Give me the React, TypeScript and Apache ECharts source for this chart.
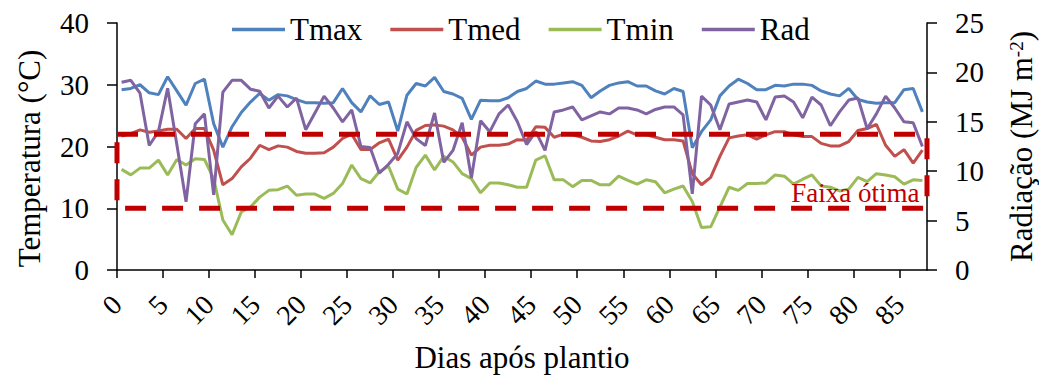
import React, { useEffect, useRef } from "react";
import * as echarts from "echarts";

// Days after planting (categories)
const days = [
  0, 1, 2, 3, 4, 5, 6, 7, 8, 9, 10, 11, 12, 13, 14, 15, 16, 17, 18, 19, 20, 21,
  22, 23, 24, 25, 26, 27, 28, 29, 30, 31, 32, 33, 34, 35, 36, 37, 38, 39, 40, 41,
  42, 43, 44, 45, 46, 47, 48, 49, 50, 51, 52, 53, 54, 55, 56, 57, 58, 59, 60, 61,
  62, 63, 64, 65, 66, 67, 68, 69, 70, 71, 72, 73, 74, 75, 76, 77, 78, 79, 80, 81,
  82, 83, 84, 85, 86, 87,
];

const xTickLabels = [0, 5, 10, 15, 20, 25, 30, 35, 40, 45, 50, 55, 60, 65, 70, 75, 80, 85];

const tmax = [
  29.2, 29.4, 30.0, 28.7, 28.4, 31.3, 29.0, 26.7, 30.2, 30.9, 23.7, 19.9, 23.2, 25.5, 27.2, 28.6,
  27.5, 28.4, 28.2, 27.6, 27.1, 27.1, 27.0, 27.1, 29.4, 27.1, 25.6, 28.2, 26.8, 27.2, 22.5, 28.3,
  30.2, 29.8, 31.2, 28.9, 28.5, 27.8, 24.4, 27.5, 27.4, 27.4, 27.9, 28.9, 29.4, 30.6, 30.1, 30.1,
  30.3, 30.5, 29.9, 27.9, 29.0, 29.9, 30.3, 30.5, 29.8, 29.8, 29.0, 28.5, 29.4, 28.9, 19.8, 22.4,
  24.3, 28.2, 29.8, 30.9, 30.2, 29.2, 29.2, 29.9, 29.8, 30.1, 30.1, 29.9, 29.0, 28.5, 28.2, 29.4,
  27.6, 27.2, 27.0, 27.1, 27.1, 29.2, 29.4, 25.6,
];

const tmed = [
  21.7, 22.1, 22.7, 22.3, 22.5, 22.8, 22.8, 21.3, 22.9, 22.9, 19.4, 13.8, 14.8, 16.7, 18.1, 20.2,
  19.5, 20.1, 19.9, 19.2, 18.9, 18.9, 19.0, 19.9, 21.3, 22.0, 19.5, 19.5, 20.6, 21.2, 17.8, 19.9,
  22.6, 23.4, 23.5, 23.3, 22.7, 21.5, 18.6, 19.9, 20.2, 20.2, 20.4, 21.1, 21.0, 23.2, 23.1, 21.5,
  22.0, 21.9, 21.5, 20.9, 20.8, 21.1, 21.7, 22.5, 21.9, 21.9, 21.5, 21.1, 21.1, 20.9, 15.6, 13.8,
  15.0, 18.4, 21.4, 21.7, 21.9, 21.2, 21.9, 22.4, 22.4, 21.9, 21.6, 21.6, 20.5, 20.1, 20.1, 20.8,
  22.6, 22.9, 23.6, 20.2, 18.4, 19.5, 17.3, 19.4,
];

const tmin = [
  16.3, 15.4, 16.5, 16.5, 17.8, 15.4, 17.9, 17.0, 18.0, 17.9, 14.8, 8.1, 5.7, 9.4, 10.2, 11.8,
  12.9, 13.0, 13.6, 12.1, 12.3, 12.3, 11.6, 12.4, 14.0, 17.0, 14.8, 14.1, 15.9, 16.8, 13.1, 12.3,
  16.6, 18.6, 16.2, 18.4, 17.5, 15.6, 14.8, 12.5, 14.1, 14.1, 13.8, 13.4, 13.4, 17.8, 18.5, 14.6,
  14.6, 13.5, 14.5, 14.5, 13.8, 13.8, 15.2, 14.5, 13.9, 14.6, 14.3, 12.5, 13.1, 13.6, 11.1, 6.9,
  7.0, 10.2, 13.4, 12.9, 14.0, 14.0, 14.1, 15.4, 15.2, 13.9, 14.7, 15.4, 13.6, 13.4, 12.8, 13.1,
  15.0, 14.3, 15.6, 15.4, 15.1, 13.9, 14.6, 14.5,
];

const rad = [
  19.0, 19.2, 17.9, 12.6, 14.0, 18.4, 12.7, 6.9, 14.8, 15.8, 7.6, 18.0, 19.2, 19.2, 18.3, 18.1,
  16.4, 17.6, 16.5, 17.4, 14.2, 15.9, 17.6, 16.4, 15.0, 16.2, 12.5, 12.4, 9.8, 10.7, 11.8, 15.0,
  13.3, 12.6, 15.9, 10.9, 12.1, 14.9, 9.3, 15.1, 14.0, 15.8, 16.7, 15.0, 12.7, 14.0, 12.1, 16.0,
  16.2, 16.5, 15.2, 15.6, 16.0, 15.8, 16.4, 16.4, 16.2, 15.8, 16.25, 16.5, 16.5, 15.7, 7.7, 17.6,
  16.7, 14.2, 16.8, 17.0, 17.2, 17.0, 15.2, 17.5, 17.6, 17.0, 15.4, 17.5, 16.7, 14.6, 16.0, 17.2,
  17.4, 14.3, 15.8, 17.6, 16.4, 15.0, 14.9, 12.5,
];

// Optimum temperature band (°C)
const optimumRange = [10, 22];

const FONT = "Liberation Serif";

export default function App() {
  const ref = useRef<HTMLDivElement>(null);

  useEffect(() => {
    if (!ref.current) return;
    const chart = echarts.init(ref.current, undefined, { renderer: "svg" });
    const axisLine = { show: true, lineStyle: { color: "#000", width: 1.5 } };
    const tickStyle = { color: "#000", width: 1.5 };
    const option: any = {
      animation: false,
      backgroundColor: "#fff",
      textStyle: { fontFamily: FONT },
      grid: {
        left: 117,
        right: 112,
        top: 23,
        bottom: 106,
        containLabel: false,
        outerBoundsMode: "none",
      },
      legend: {
        data: ["Tmax", "Tmed", "Tmin", "Rad"],
        left: 227,
        top: 9,
        icon: "rect",
        itemWidth: 53,
        itemHeight: 3.5,
        itemGap: 28,
        textStyle: { fontFamily: FONT, fontSize: 31, color: "#000" },
      },
      xAxis: [
        {
          type: "value",
          position: "bottom",
          min: 0,
          max: 88,
          interval: 5,
          axisLine,
          splitLine: { show: false },
          axisTick: { show: true, length: 8, customValues: xTickLabels, lineStyle: tickStyle },
          axisLabel: {
            customValues: xTickLabels,
            rotate: 45,
            margin: 30,
            fontSize: 28,
            fontFamily: FONT,
            color: "#000",
            formatter: (v: number) => (v % 5 === 0 && v < 88 ? String(v) : ""),
          },
          name: "Dias após plantio",
          nameLocation: "middle",
          nameGap: 72,
          nameTextStyle: { fontFamily: FONT, fontSize: 31, color: "#000" },
        },
        {
          type: "category",
          position: "top",
          show: false,
          boundaryGap: true,
          data: days.map(String),
        },
      ],
      yAxis: [
        {
          type: "value",
          min: 0,
          max: 40,
          interval: 10,
          position: "left",
          axisLine,
          splitLine: { show: false },
          axisTick: { show: true, length: 10, lineStyle: tickStyle },
          axisLabel: { fontSize: 29, fontFamily: FONT, color: "#000", margin: 28 },
          name: "Temperatura (°C)",
          nameLocation: "middle",
          nameRotate: 90,
          nameGap: 72,
          nameTextStyle: { fontFamily: FONT, fontSize: 31, color: "#000", padding: [0, 24, 0, 0] },
        },
        {
          type: "value",
          min: 0,
          max: 25,
          interval: 5,
          position: "right",
          axisLine,
          splitLine: { show: false },
          axisTick: { show: true, length: 10, lineStyle: tickStyle },
          axisLabel: { fontSize: 29, fontFamily: FONT, color: "#000", margin: 28 },
          name: "{a|Radiação (MJ m}{s|-2}{a|)}",
          nameLocation: "middle",
          nameRotate: 90,
          nameGap: 80,
          nameTextStyle: {
            fontFamily: FONT,
            fontSize: 31,
            color: "#000",
            rich: {
              a: { fontFamily: FONT, fontSize: 31, color: "#000", lineHeight: 30, verticalAlign: "bottom" },
              s: { fontFamily: FONT, fontSize: 19, color: "#000", verticalAlign: "top" },
            },
          },
        },
      ],
      series: [
        {
          name: "Tmax",
          type: "line",
          xAxisIndex: 1,
          yAxisIndex: 0,
          data: tmax,
          showSymbol: false,
          symbol: "none",
          color: "#4F81BD",
          lineStyle: { width: 3, color: "#4F81BD" },
          z: 3,
        },
        {
          name: "Tmed",
          type: "line",
          xAxisIndex: 1,
          yAxisIndex: 0,
          data: tmed,
          showSymbol: false,
          symbol: "none",
          color: "#C0504D",
          lineStyle: { width: 3, color: "#C0504D" },
          z: 3,
          markArea: {
            silent: true,
            z: 10,
            itemStyle: {
              color: "rgba(0,0,0,0)",
              borderColor: "#C00000",
              borderWidth: 5,
              borderType: [21, 16],
            },
            label: {
              show: true,
              position: "insideBottomRight",
              distance: 2,
              offset: [-8, -2],
              formatter: "Faixa ótima",
              fontFamily: FONT,
              fontSize: 27,
              color: "#C00000",
            },
            data: [[{ yAxis: optimumRange[1] }, { yAxis: optimumRange[0] }]],
          },
        },
        {
          name: "Tmin",
          type: "line",
          xAxisIndex: 1,
          yAxisIndex: 0,
          data: tmin,
          showSymbol: false,
          symbol: "none",
          color: "#9BBB59",
          lineStyle: { width: 3, color: "#9BBB59" },
          z: 3,
        },
        {
          name: "Rad",
          type: "line",
          xAxisIndex: 1,
          yAxisIndex: 1,
          data: rad,
          showSymbol: false,
          symbol: "none",
          color: "#8064A2",
          lineStyle: { width: 3, color: "#8064A2" },
          z: 3,
        },
      ],
    };
    chart.setOption(option);
    return () => chart.dispose();
  }, []);

  return (
    <div
      ref={ref}
      style={{ position: "fixed", left: 0, top: 0, width: 1039, height: 376, background: "#fff" }}
    />
  );
}
